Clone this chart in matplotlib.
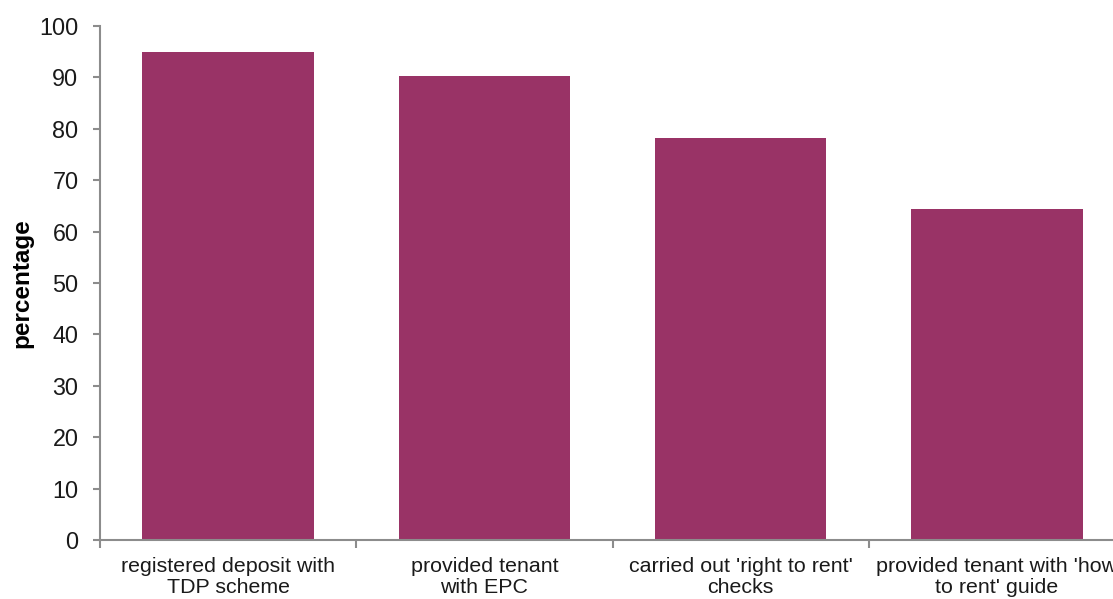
import matplotlib
matplotlib.use('Agg')
import matplotlib.pyplot as plt
import numpy as np

# data
categories = ["registered deposit with\nTDP scheme",
              "provided tenant\nwith EPC",
              "carried out 'right to rent'\nchecks",
              "provided tenant with 'how\nto rent' guide"]
values = [95.0, 90.3, 78.3, 64.3]
yticks = [0, 10, 20, 30, 40, 50, 60, 70, 80, 90, 100]

plt.rcParams['font.family'] = ['Liberation Sans', 'DejaVu Sans']

W, H = 1113, 599
fig = plt.figure(figsize=(W/100, H/100), dpi=100)
# axis runs past the right edge of the picture, as in the reference
# (so the last category label is cut off there too)
left, right, bottom, top = 100, 1125, 540, 26
ax = fig.add_axes([left/W, 1-bottom/H, (right-left)/W, (bottom-top)/H])

x = np.arange(len(categories))
ax.bar(x, values, width=0.67, color='#993366')

ax.set_xlim(-0.5, len(categories)-0.5)
ax.set_ylim(0, 100)
ax.set_yticks(yticks)
ax.set_xticks(x)
ax.set_xticklabels(categories, fontsize=15.4, color='#1a1a1a', linespacing=1.1)
ax.set_xticks(np.arange(-0.5, len(categories)), minor=True)
ax.tick_params(axis='x', which='major', length=0, pad=12.5)
ax.tick_params(axis='x', which='minor', length=6, width=1.5, color='#8c8c8c', direction='out')
ax.tick_params(axis='y', length=5, width=1.5, color='#8c8c8c', pad=10.5, labelsize=16.8, labelcolor='#1a1a1a')

for s in ['top', 'right']:
    ax.spines[s].set_visible(False)
for s in ['left', 'bottom']:
    ax.spines[s].set_color('#8c8c8c')
    ax.spines[s].set_linewidth(1.5)

ax.set_ylabel('percentage', fontsize=17.5, fontweight='bold', labelpad=4)

fig.savefig('out.png', dpi=100)
